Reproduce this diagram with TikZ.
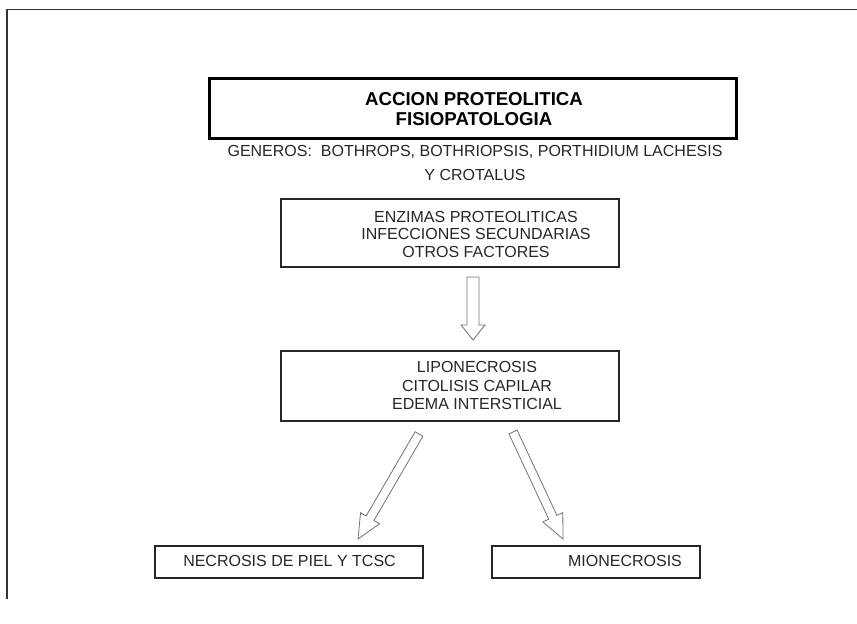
\documentclass[tikz,border=0pt]{standalone}
\usepackage{fontspec}
\setmainfont{Liberation Sans}
\usetikzlibrary{calc}

\tikzset{
  frameline/.style={line width=1.4pt, draw=black!80},
  titlebox/.style={draw=black, line width=3.5pt, inner sep=0pt},
  plainbox/.style={draw=black!85, line width=1.2pt, inner sep=0pt},
  bodytext/.style={font=\fontsize{16}{18}\selectfont, text=black!85, align=center, inner sep=0pt},
  titletext/.style={font=\fontsize{18.67}{20}\selectfont\bfseries, text=black, align=center, inner sep=0pt},
  hollowarrow/.style={draw=black!55, line width=0.8pt, fill=white, line join=miter},
}

% hollow block arrow: #1 half shaft width, #2 half head width, #3 head length, from #4 to #5
\newcommand{\hollowarr}[5]{%
  \path[hollowarrow] let \p1=($(#5)-(#4)$), \n1={atan2(\y1,\x1)}, \n2={veclen(\x1,\y1)} in
    [shift={(#4)}, rotate=\n1]
    (0,-#1) -- (\n2-#3,-#1) -- (\n2-#3,-#2) -- (\n2,0) -- (\n2-#3,#2) -- (\n2-#3,#1) -- (0,#1) -- cycle;}

\begin{document}
\begin{tikzpicture}[x=1pt, y=-1pt]
  \useasboundingbox (0,0) rectangle (857,624);

  % page frame
  \coordinate (frbl) at (7,599);
  \coordinate (frtl) at (7,9.5);
  \coordinate (frtr) at (857,9.5);
  \draw[frameline] (frbl) -- (frtl) -- (frtr);

  % heading
  \node[titlebox, minimum width=527pt, minimum height=60pt] (title) at (473,108.5) {};
  \node[titletext] (titletxt) at (474,109) {ACCION PROTEOLITICA\\FISIOPATOLOGIA};

  \node[bodytext, font=\fontsize{16}{24}\selectfont] (generos) at (475,162.5)
    {GENEROS:\ \ BOTHROPS, BOTHRIOPSIS, PORTHIDIUM LACHESIS\\Y CROTALUS};

  % causes
  \node[plainbox, minimum width=338pt, minimum height=68pt] (causes) at (450,233) {};
  \node[bodytext, font=\fontsize{16}{17.5}\selectfont] (causestxt) at (476,234)
    {ENZIMAS PROTEOLITICAS\\INFECCIONES SECUNDARIAS\\OTROS FACTORES};

  % tissue damage
  \node[plainbox, minimum width=338pt, minimum height=70pt] (damage) at (450,386) {};
  \node[bodytext, font=\fontsize{16}{18.5}\selectfont] (damagetxt) at (477,385.5)
    {LIPONECROSIS\\CITOLISIS CAPILAR\\EDEMA INTERSTICIAL};

  % outcomes
  \node[plainbox, minimum width=268pt, minimum height=32pt] (skin) at (289,562) {};
  \node[bodytext] (skintxt) at (289.5,561) {NECROSIS DE PIEL Y TCSC};

  \node[plainbox, minimum width=208pt, minimum height=32pt] (muscle) at (596,562) {};
  \node[bodytext] (muscletxt) at (625,561) {MIONECROSIS};

  % arrow ends
  \coordinate (a1s) at (473,277);
  \coordinate (a1e) at (473,340);
  \coordinate (a2s) at (419,434);
  \coordinate (a2e) at (358,539);
  \coordinate (a3s) at (513,432);
  \coordinate (a3e) at (563,539);

  \hollowarr{6}{12}{15}{a1s}{a1e}
  \hollowarr{4.5}{11}{24}{a2s}{a2e}
  \hollowarr{4.5}{11}{24}{a3s}{a3e}
\end{tikzpicture}
\end{document}
